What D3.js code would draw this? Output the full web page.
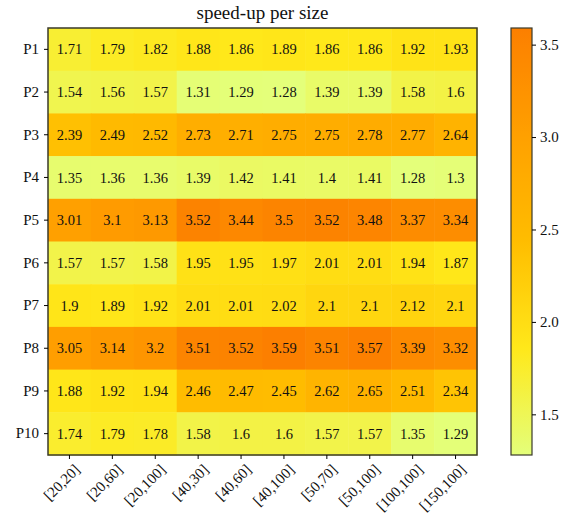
<!DOCTYPE html>
<html><head><meta charset="utf-8">
<script src="https://cdn.jsdelivr.net/npm/d3@7"></script>
<style>body{margin:0;background:#fff}svg{display:block}</style>
</head><body>
<script>
const rows = ["P1","P2","P3","P4","P5","P6","P7","P8","P9","P10"];
const cols = ["[20,20]","[20,60]","[20,100]","[40,30]","[40,60]","[40,100]","[50,70]","[50,100]","[100,100]","[150,100]"];
const values = [
 [1.71,1.79,1.82,1.88,1.86,1.89,1.86,1.86,1.92,1.93],
 [1.54,1.56,1.57,1.31,1.29,1.28,1.39,1.39,1.58,1.6],
 [2.39,2.49,2.52,2.73,2.71,2.75,2.75,2.78,2.77,2.64],
 [1.35,1.36,1.36,1.39,1.42,1.41,1.4,1.41,1.28,1.3],
 [3.01,3.1,3.13,3.52,3.44,3.5,3.52,3.48,3.37,3.34],
 [1.57,1.57,1.58,1.95,1.95,1.97,2.01,2.01,1.94,1.87],
 [1.9,1.89,1.92,2.01,2.01,2.02,2.1,2.1,2.12,2.1],
 [3.05,3.14,3.2,3.51,3.52,3.59,3.51,3.57,3.39,3.32],
 [1.88,1.92,1.94,2.46,2.47,2.45,2.62,2.65,2.51,2.34],
 [1.74,1.79,1.78,1.58,1.6,1.6,1.57,1.57,1.35,1.29]
];
const cbTicks = [1.5,2.0,2.5,3.0,3.5];
const title = "speed-up per size";

const W=564,H=519;
const font = "'Liberation Serif','DejaVu Serif',serif";
const svg = d3.select("body").append("svg").attr("width",W).attr("height",H)
  .style("font-family",font);

const L=48,R=477,T=28,B=455;
const x = d3.scaleBand().domain(cols).range([L,R]);
const y = d3.scaleBand().domain(rows).range([T,B]);
const flat = values.flat();
const vmin=d3.min(flat), vmax=d3.max(flat);
const stops=["#e4ff7a","#ffe81a","#ffbd00","#ffa000","#fc7f00"];
const interp = d3.piecewise(d3.interpolateRgb, stops);
const color = d3.scaleSequential(interp).domain([vmin,vmax]);

const cells=[];
values.forEach((r,i)=>r.forEach((v,j)=>cells.push({r:rows[i],c:cols[j],v})));
svg.append("g").selectAll("rect").data(cells).join("rect")
  .attr("x",d=>x(d.c)).attr("y",d=>y(d.r))
  .attr("width",x.bandwidth()+0.5).attr("height",y.bandwidth()+0.5)
  .attr("fill",d=>color(d.v));
svg.append("g").selectAll("text").data(cells).join("text")
  .attr("x",d=>x(d.c)+x.bandwidth()/2).attr("y",d=>y(d.r)+y.bandwidth()/2)
  .attr("text-anchor","middle").attr("dy","0.35em")
  .style("font-size","14.5px").attr("fill","#111").text(d=>d3.format("")(d.v));

svg.append("rect").attr("x",L).attr("y",T).attr("width",R-L).attr("height",B-T)
  .attr("fill","none").attr("stroke","#3a3a2a").attr("stroke-width",1.5);

const xa = svg.append("g").attr("transform",`translate(0,${B})`)
  .call(d3.axisBottom(x).tickSize(4).tickPadding(3));
xa.select(".domain").remove();
xa.selectAll("text").style("font-size","15px").attr("font-family",font).attr("fill","#111")
  .attr("text-anchor","end").attr("transform","rotate(-45)").attr("dx","-0.2em").attr("dy","0.8em");
const ya = svg.append("g").attr("transform",`translate(${L},0)`)
  .call(d3.axisLeft(y).tickSize(4).tickPadding(5));
ya.select(".domain").remove();
ya.selectAll("text").style("font-size","15px").attr("font-family",font).attr("fill","#111");

svg.append("text").attr("x",(L+R)/2).attr("y",19).attr("text-anchor","middle")
  .style("font-size","19px").attr("fill","#111").text(title);

// colorbar
const cbL=511,cbR=532;
const cy = d3.scaleLinear().domain([vmin,vmax]).range([B,T]);
const defs=svg.append("defs");
const grad=defs.append("linearGradient").attr("id","cb").attr("x1",0).attr("x2",0).attr("y1",1).attr("y2",0);
d3.range(0,1.0001,0.05).forEach(t=>grad.append("stop").attr("offset",t).attr("stop-color",interp(t)));
svg.append("rect").attr("x",cbL).attr("y",T).attr("width",cbR-cbL).attr("height",B-T)
  .attr("fill","url(#cb)").attr("stroke","#3a3a2a").attr("stroke-width",1.2);
const ca = svg.append("g").attr("transform",`translate(${cbR},0)`)
  .call(d3.axisRight(cy).tickValues(cbTicks).tickFormat(d3.format(".1f")).tickSize(4).tickPadding(4));
ca.select(".domain").remove();
ca.selectAll("text").style("font-size","15px").attr("font-family",font).attr("fill","#111");
</script>
</body></html>
